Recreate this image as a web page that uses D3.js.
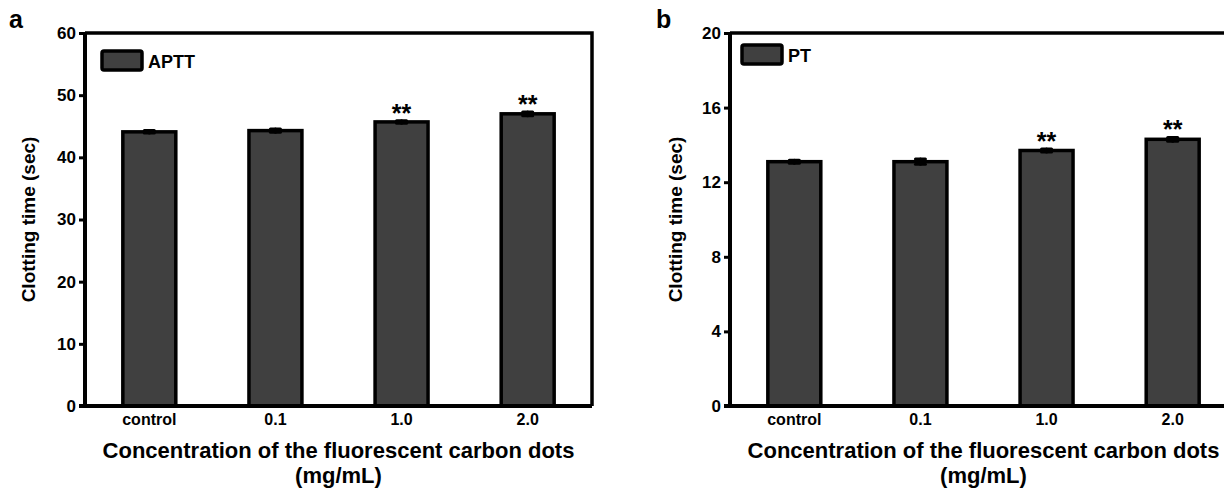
<!DOCTYPE html>
<html>
<head>
<meta charset="utf-8">
<script src="https://cdn.jsdelivr.net/npm/d3@7"></script>
<style>
  body { margin: 0; background: #fff; }
  svg { display: block; font-family: "Liberation Sans", Arial, sans-serif; font-weight: bold; }
  svg text { font-family: "Liberation Sans", Arial, sans-serif; font-weight: bold; }
</style>
</head>
<body>
<div id="chart"></div>
<script>
// shared categories
var categories = ['control', '0.1', '1.0', '2.0'];

// panel a: APTT
var apttMeans = [44.1, 44.3, 45.7, 47.0];
var apttErrors = [0.2, 0.25, 0.2, 0.3];
var apttSig = ['', '', '**', '**'];
var apttTicks = [0, 10, 20, 30, 40, 50, 60];

// panel b: PT
var ptMeans = [13.1, 13.1, 13.7, 14.3];
var ptErrors = [0.08, 0.14, 0.08, 0.1];
var ptSig = ['', '', '**', '**'];
var ptTicks = [0, 4, 8, 12, 16, 20];

var svg = d3.select('#chart').append('svg')
    .attr('width', 1224)
    .attr('height', 490);

/**
 * Draws one bar panel
 * @param p - layout and data for the panel
 */
function panel(p) {
    var dim = {l: p.left, t: 33, w: 507, h: 373};

    var g = svg.append('g')
        .attr('transform', 'translate(' + dim.l + ',' + dim.t + ')');

    // scales
    var x = d3.scaleBand().range([0, dim.w])
        .domain(categories)
        .paddingInner(0.58)
        .paddingOuter(0.3);

    var y = d3.scaleLinear().range([dim.h, 0])
        .domain([0, d3.max(p.ticks)]);

    // bars
    var data = categories.map(function(c, i) {
        return {c: c, m: p.means[i], e: p.errors[i], s: p.sig[i]};
    });

    g.selectAll('.bar').data(data).enter()
        .append('rect').attr('class', 'bar')
        .attr('x', function(d) { return x(d.c); })
        .attr('y', function(d) { return y(d.m); })
        .attr('width', x.bandwidth())
        .attr('height', function(d) { return dim.h - y(d.m); })
        .attr('fill', '#404040')
        .attr('stroke', '#000')
        .attr('stroke-width', 3.5);

    // error bars
    var eb = g.selectAll('.err').data(data).enter()
        .append('g').attr('class', 'err')
        .attr('stroke', '#000')
        .attr('stroke-width', 3)
        .attr('stroke-linecap', 'round');

    eb.append('line')
        .attr('x1', function(d) { return x(d.c) + x.bandwidth() / 2; })
        .attr('x2', function(d) { return x(d.c) + x.bandwidth() / 2; })
        .attr('y1', function(d) { return y(d.m - d.e); })
        .attr('y2', function(d) { return y(d.m + d.e); });

    eb.append('line')
        .attr('x1', function(d) { return x(d.c) + x.bandwidth() / 2 - 5; })
        .attr('x2', function(d) { return x(d.c) + x.bandwidth() / 2 + 5; })
        .attr('y1', function(d) { return y(d.m + d.e); })
        .attr('y2', function(d) { return y(d.m + d.e); });

    eb.append('line')
        .attr('x1', function(d) { return x(d.c) + x.bandwidth() / 2 - 5; })
        .attr('x2', function(d) { return x(d.c) + x.bandwidth() / 2 + 5; })
        .attr('y1', function(d) { return y(d.m - d.e); })
        .attr('y2', function(d) { return y(d.m - d.e); });

    // significance stars
    g.selectAll('.sig').data(data).enter()
        .append('text').attr('class', 'sig')
        .text(function(d) { return d.s; })
        .attr('x', function(d) { return x(d.c) + x.bandwidth() / 2; })
        .attr('y', function(d) { return y(d.m + d.e) + 1; })
        .attr('text-anchor', 'middle')
        .style('font-size', '25px');

    // frame (top and right)
    g.append('path')
        .attr('d', 'M0,0H' + dim.w + 'V' + dim.h)
        .attr('fill', 'none')
        .attr('stroke', '#000')
        .attr('stroke-width', 3.5);

    // y axis
    var yAx = g.append('g')
        .call(d3.axisLeft(y).tickValues(p.ticks).tickSize(6).tickPadding(3));
    yAx.attr('font-size', null).attr('font-family', null);
    yAx.select('.domain').attr('d', 'M0,' + (dim.h + 1.5) + 'V0').attr('stroke-width', 4);
    yAx.selectAll('.tick line').attr('stroke-width', 3);
    yAx.selectAll('text').style('font-size', '17px').attr('fill', '#000');

    // x axis
    var xAx = g.append('g')
        .attr('transform', 'translate(0,' + dim.h + ')')
        .call(d3.axisBottom(x).tickSize(0).tickPadding(8));
    xAx.attr('font-size', null).attr('font-family', null);
    xAx.select('.domain').attr('d', 'M-6,0H' + dim.w).attr('stroke-width', 4);
    xAx.selectAll('text').style('font-size', '16px').attr('fill', '#000');

    // legend
    g.append('rect')
        .attr('x', p.legX).attr('y', p.legY)
        .attr('width', 40).attr('height', 19)
        .attr('rx', 2)
        .attr('fill', '#404040')
        .attr('stroke', '#000')
        .attr('stroke-width', 3.5);
    g.append('text').text(p.legend)
        .attr('x', p.legX + 46).attr('y', p.legY + 17)
        .style('font-size', '18px');

    // axis titles
    g.append('text').text('Clotting time (sec)')
        .attr('transform', 'translate(' + p.yTitleX + ',' + (dim.h / 2) + ') rotate(-90)')
        .attr('text-anchor', 'middle')
        .style('font-size', '19px');

    g.append('text').text('Concentration of the fluorescent carbon dots')
        .attr('x', dim.w / 2).attr('y', 458 - dim.t)
        .attr('text-anchor', 'middle')
        .style('font-size', '22px');
    g.append('text').text('(mg/mL)')
        .attr('x', dim.w / 2).attr('y', 483 - dim.t)
        .attr('text-anchor', 'middle')
        .style('font-size', '22px');

    // panel letter
    svg.append('text').text(p.letter)
        .attr('x', p.letterX).attr('y', 28)
        .style('font-size', '25px');
}

panel({left: 85, means: apttMeans, errors: apttErrors, sig: apttSig, ticks: apttTicks,
       legend: 'APTT', legX: 17, legY: 18, yTitleX: -50, letter: 'a', letterX: 9});
panel({left: 730, means: ptMeans, errors: ptErrors, sig: ptSig, ticks: ptTicks,
       legend: 'PT', legX: 12, legY: 12, yTitleX: -48, letter: 'b', letterX: 656});
</script>
</body>
</html>
